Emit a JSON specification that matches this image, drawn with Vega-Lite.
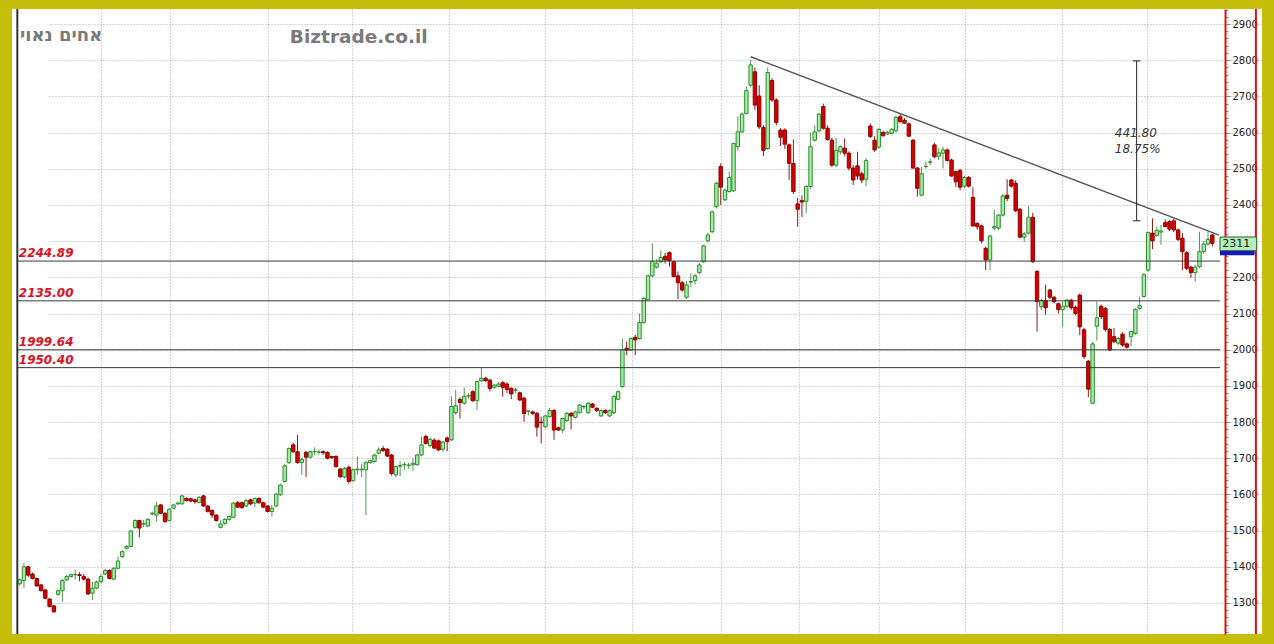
{
"$schema":"https://vega.github.io/schema/vega-lite/v6.json",
"width":1250,"height":625,
"autosize":{"type":"none"},
"padding":{"left":12,"top":9,"right":12,"bottom":10},
"background":"#c5bf0c",
"config":{"view":{"fill":"white","stroke":null},"font":"DejaVu Sans"},
"datasets":{
"candles":[
{"i":1,"o":1353,"h":1368,"l":1348,"c":1364},{"i":2,"o":1362,"h":1411,"l":1341,"c":1400},{"i":3,"o":1400,"h":1402,"l":1372,"c":1377},{"i":4,"o":1380,"h":1384,"l":1365,"c":1368},{"i":5,"o":1368,"h":1370,"l":1345,"c":1347},{"i":6,"o":1350,"h":1352,"l":1332,"c":1334},{"i":7,"o":1336,"h":1338,"l":1310,"c":1313},{"i":8,"o":1311,"h":1313,"l":1288,"c":1290},{"i":9,"o":1292,"h":1294,"l":1272,"c":1276},{"i":10,"o":1324,"h":1336,"l":1320,"c":1334},
{"i":11,"o":1334,"h":1366,"l":1304,"c":1362},{"i":12,"o":1364,"h":1378,"l":1360,"c":1373},{"i":13,"o":1373,"h":1381,"l":1370,"c":1378},{"i":14,"o":1378,"h":1392,"l":1364,"c":1379},{"i":15,"o":1378,"h":1385,"l":1360,"c":1376},{"i":16,"o":1373,"h":1380,"l":1362,"c":1366},{"i":17,"o":1366,"h":1370,"l":1322,"c":1325},{"i":18,"o":1327,"h":1359,"l":1308,"c":1341},{"i":19,"o":1341,"h":1362,"l":1338,"c":1358},{"i":20,"o":1359,"h":1380,"l":1355,"c":1373},
{"i":21,"o":1380,"h":1395,"l":1377,"c":1390},{"i":22,"o":1390,"h":1393,"l":1365,"c":1368},{"i":23,"o":1366,"h":1398,"l":1364,"c":1396},{"i":24,"o":1396,"h":1428,"l":1393,"c":1416},{"i":25,"o":1428,"h":1446,"l":1424,"c":1442},{"i":26,"o":1451,"h":1460,"l":1448,"c":1456},{"i":27,"o":1456,"h":1502,"l":1454,"c":1499},{"i":28,"o":1509,"h":1531,"l":1505,"c":1528},{"i":29,"o":1528,"h":1530,"l":1482,"c":1507},{"i":30,"o":1518,"h":1530,"l":1510,"c":1520},
{"i":31,"o":1513,"h":1535,"l":1510,"c":1531},{"i":32,"o":1546,"h":1552,"l":1542,"c":1548},{"i":33,"o":1543,"h":1580,"l":1525,"c":1568},{"i":34,"o":1571,"h":1574,"l":1546,"c":1548},{"i":35,"o":1548,"h":1550,"l":1522,"c":1525},{"i":36,"o":1528,"h":1562,"l":1526,"c":1559},{"i":37,"o":1562,"h":1574,"l":1560,"c":1571},{"i":38,"o":1574,"h":1580,"l":1570,"c":1576},{"i":39,"o":1574,"h":1599,"l":1572,"c":1596},{"i":40,"o":1589,"h":1592,"l":1580,"c":1583},
{"i":41,"o":1588,"h":1591,"l":1578,"c":1582},{"i":42,"o":1585,"h":1588,"l":1574,"c":1580},{"i":43,"o":1578,"h":1595,"l":1575,"c":1592},{"i":44,"o":1596,"h":1598,"l":1566,"c":1568},{"i":45,"o":1568,"h":1570,"l":1550,"c":1553},{"i":46,"o":1556,"h":1558,"l":1535,"c":1543},{"i":47,"o":1543,"h":1545,"l":1525,"c":1528},{"i":48,"o":1509,"h":1529,"l":1506,"c":1518},{"i":49,"o":1520,"h":1535,"l":1516,"c":1531},{"i":50,"o":1531,"h":1542,"l":1528,"c":1539},
{"i":51,"o":1537,"h":1579,"l":1535,"c":1576},{"i":52,"o":1577,"h":1582,"l":1562,"c":1565},{"i":53,"o":1577,"h":1580,"l":1560,"c":1564},{"i":54,"o":1568,"h":1588,"l":1565,"c":1583},{"i":55,"o":1585,"h":1588,"l":1570,"c":1574},{"i":56,"o":1576,"h":1592,"l":1565,"c":1589},{"i":57,"o":1589,"h":1592,"l":1575,"c":1577},{"i":58,"o":1577,"h":1580,"l":1562,"c":1565},{"i":59,"o":1568,"h":1570,"l":1550,"c":1553},{"i":60,"o":1553,"h":1571,"l":1539,"c":1562},
{"i":61,"o":1568,"h":1604,"l":1565,"c":1601},{"i":62,"o":1599,"h":1630,"l":1596,"c":1626},{"i":63,"o":1636,"h":1684,"l":1633,"c":1679},{"i":64,"o":1688,"h":1730,"l":1684,"c":1727},{"i":65,"o":1737,"h":1742,"l":1715,"c":1718},{"i":66,"o":1718,"h":1764,"l":1685,"c":1688},{"i":67,"o":1688,"h":1700,"l":1654,"c":1697},{"i":68,"o":1716,"h":1720,"l":1648,"c":1703},{"i":69,"o":1703,"h":1722,"l":1700,"c":1718},{"i":70,"o":1718,"h":1730,"l":1708,"c":1719},
{"i":71,"o":1717,"h":1724,"l":1710,"c":1717},{"i":72,"o":1718,"h":1722,"l":1710,"c":1715},{"i":73,"o":1716,"h":1719,"l":1697,"c":1700},{"i":74,"o":1705,"h":1707,"l":1698,"c":1702},{"i":75,"o":1705,"h":1708,"l":1674,"c":1677},{"i":76,"o":1670,"h":1673,"l":1645,"c":1649},{"i":77,"o":1648,"h":1676,"l":1644,"c":1672},{"i":78,"o":1675,"h":1680,"l":1630,"c":1636},{"i":79,"o":1638,"h":1672,"l":1635,"c":1668},{"i":80,"o":1668,"h":1705,"l":1654,"c":1670},
{"i":81,"o":1668,"h":1685,"l":1648,"c":1670},{"i":82,"o":1668,"h":1692,"l":1543,"c":1688},{"i":83,"o":1688,"h":1697,"l":1685,"c":1693},{"i":84,"o":1691,"h":1712,"l":1688,"c":1709},{"i":85,"o":1714,"h":1730,"l":1711,"c":1723},{"i":86,"o":1727,"h":1734,"l":1718,"c":1721},{"i":87,"o":1725,"h":1728,"l":1703,"c":1706},{"i":88,"o":1709,"h":1712,"l":1652,"c":1658},{"i":89,"o":1654,"h":1680,"l":1648,"c":1677},{"i":90,"o":1678,"h":1692,"l":1650,"c":1680},
{"i":91,"o":1682,"h":1690,"l":1668,"c":1683},{"i":92,"o":1680,"h":1688,"l":1670,"c":1681},{"i":93,"o":1682,"h":1700,"l":1665,"c":1686},{"i":94,"o":1682,"h":1712,"l":1680,"c":1709},{"i":95,"o":1709,"h":1760,"l":1705,"c":1737},{"i":96,"o":1760,"h":1765,"l":1738,"c":1741},{"i":97,"o":1735,"h":1756,"l":1730,"c":1752},{"i":98,"o":1750,"h":1755,"l":1725,"c":1728},{"i":99,"o":1748,"h":1752,"l":1720,"c":1723},{"i":100,"o":1725,"h":1748,"l":1718,"c":1745},
{"i":101,"o":1756,"h":1760,"l":1720,"c":1746},{"i":102,"o":1751,"h":1871,"l":1748,"c":1843},{"i":103,"o":1826,"h":1889,"l":1820,"c":1845},{"i":104,"o":1863,"h":1868,"l":1810,"c":1854},{"i":105,"o":1852,"h":1895,"l":1848,"c":1871},{"i":106,"o":1872,"h":1880,"l":1865,"c":1873},{"i":107,"o":1884,"h":1888,"l":1856,"c":1859},{"i":108,"o":1859,"h":1914,"l":1833,"c":1912},{"i":109,"o":1914,"h":1949,"l":1910,"c":1921},{"i":110,"o":1921,"h":1925,"l":1912,"c":1914},
{"i":111,"o":1916,"h":1920,"l":1885,"c":1893},{"i":112,"o":1896,"h":1905,"l":1892,"c":1902},{"i":113,"o":1899,"h":1910,"l":1895,"c":1905},{"i":114,"o":1909,"h":1913,"l":1870,"c":1896},{"i":115,"o":1905,"h":1910,"l":1880,"c":1890},{"i":116,"o":1893,"h":1897,"l":1863,"c":1878},{"i":117,"o":1888,"h":1895,"l":1880,"c":1889},{"i":118,"o":1881,"h":1884,"l":1858,"c":1861},{"i":119,"o":1866,"h":1870,"l":1801,"c":1824},{"i":120,"o":1830,"h":1832,"l":1818,"c":1831},
{"i":121,"o":1828,"h":1832,"l":1820,"c":1824},{"i":122,"o":1824,"h":1828,"l":1760,"c":1786},{"i":123,"o":1800,"h":1815,"l":1741,"c":1798},{"i":124,"o":1787,"h":1820,"l":1783,"c":1817},{"i":125,"o":1815,"h":1840,"l":1812,"c":1832},{"i":126,"o":1832,"h":1836,"l":1751,"c":1778},{"i":127,"o":1784,"h":1788,"l":1775,"c":1778},{"i":128,"o":1778,"h":1812,"l":1770,"c":1810},{"i":129,"o":1804,"h":1828,"l":1800,"c":1824},{"i":130,"o":1824,"h":1828,"l":1780,"c":1817},
{"i":131,"o":1813,"h":1832,"l":1810,"c":1828},{"i":132,"o":1826,"h":1850,"l":1823,"c":1847},{"i":133,"o":1842,"h":1848,"l":1836,"c":1843},{"i":134,"o":1826,"h":1856,"l":1822,"c":1852},{"i":135,"o":1850,"h":1853,"l":1838,"c":1841},{"i":136,"o":1838,"h":1841,"l":1828,"c":1832},{"i":137,"o":1817,"h":1835,"l":1814,"c":1832},{"i":138,"o":1832,"h":1835,"l":1822,"c":1826},{"i":139,"o":1817,"h":1835,"l":1814,"c":1832},{"i":140,"o":1826,"h":1874,"l":1822,"c":1871},
{"i":141,"o":1863,"h":1888,"l":1860,"c":1884},{"i":142,"o":1898,"h":2031,"l":1895,"c":1999},{"i":143,"o":2004,"h":2022,"l":1985,"c":1999},{"i":144,"o":1999,"h":2034,"l":1996,"c":2031},{"i":145,"o":2034,"h":2041,"l":1985,"c":2027},{"i":146,"o":2031,"h":2100,"l":2028,"c":2075},{"i":147,"o":2075,"h":2145,"l":2072,"c":2142},{"i":148,"o":2138,"h":2208,"l":2135,"c":2204},{"i":149,"o":2204,"h":2294,"l":2200,"c":2244},{"i":150,"o":2228,"h":2250,"l":2224,"c":2239},
{"i":151,"o":2243,"h":2275,"l":2240,"c":2255},{"i":152,"o":2258,"h":2268,"l":2238,"c":2248},{"i":153,"o":2268,"h":2272,"l":2230,"c":2246},{"i":154,"o":2243,"h":2246,"l":2200,"c":2202},{"i":155,"o":2204,"h":2216,"l":2140,"c":2185},{"i":156,"o":2185,"h":2190,"l":2160,"c":2165},{"i":157,"o":2145,"h":2190,"l":2140,"c":2179},{"i":158,"o":2187,"h":2211,"l":2174,"c":2188},{"i":159,"o":2191,"h":2210,"l":2180,"c":2204},{"i":160,"o":2213,"h":2240,"l":2208,"c":2234},
{"i":161,"o":2243,"h":2290,"l":2240,"c":2287},{"i":162,"o":2301,"h":2322,"l":2296,"c":2317},{"i":163,"o":2326,"h":2385,"l":2322,"c":2381},{"i":164,"o":2396,"h":2464,"l":2390,"c":2460},{"i":165,"o":2506,"h":2515,"l":2400,"c":2449},{"i":166,"o":2414,"h":2445,"l":2410,"c":2441},{"i":167,"o":2437,"h":2492,"l":2434,"c":2476},{"i":168,"o":2439,"h":2572,"l":2436,"c":2570},{"i":169,"o":2561,"h":2645,"l":2550,"c":2602},{"i":170,"o":2602,"h":2655,"l":2598,"c":2651},
{"i":171,"o":2653,"h":2727,"l":2650,"c":2716},{"i":172,"o":2731,"h":2800,"l":2725,"c":2787},{"i":173,"o":2768,"h":2780,"l":2662,"c":2676},{"i":174,"o":2701,"h":2731,"l":2610,"c":2616},{"i":175,"o":2614,"h":2620,"l":2535,"c":2551},{"i":176,"o":2556,"h":2780,"l":2552,"c":2766},{"i":177,"o":2744,"h":2750,"l":2685,"c":2690},{"i":178,"o":2690,"h":2695,"l":2620,"c":2628},{"i":179,"o":2607,"h":2612,"l":2563,"c":2587},{"i":180,"o":2607,"h":2612,"l":2555,"c":2568},
{"i":181,"o":2566,"h":2570,"l":2469,"c":2515},{"i":182,"o":2515,"h":2581,"l":2430,"c":2437},{"i":183,"o":2403,"h":2420,"l":2340,"c":2388},{"i":184,"o":2412,"h":2427,"l":2367,"c":2408},{"i":185,"o":2410,"h":2455,"l":2377,"c":2451},{"i":186,"o":2451,"h":2600,"l":2445,"c":2561},{"i":187,"o":2579,"h":2620,"l":2575,"c":2602},{"i":188,"o":2605,"h":2655,"l":2600,"c":2651},{"i":189,"o":2672,"h":2680,"l":2608,"c":2612},{"i":190,"o":2612,"h":2620,"l":2578,"c":2581},
{"i":191,"o":2579,"h":2585,"l":2505,"c":2510},{"i":192,"o":2510,"h":2585,"l":2505,"c":2551},{"i":193,"o":2547,"h":2565,"l":2540,"c":2561},{"i":194,"o":2557,"h":2584,"l":2535,"c":2543},{"i":195,"o":2543,"h":2548,"l":2495,"c":2502},{"i":196,"o":2502,"h":2510,"l":2455,"c":2469},{"i":197,"o":2508,"h":2547,"l":2470,"c":2480},{"i":198,"o":2486,"h":2492,"l":2460,"c":2469},{"i":199,"o":2471,"h":2529,"l":2452,"c":2523},{"i":200,"o":2618,"h":2625,"l":2585,"c":2589},
{"i":201,"o":2579,"h":2590,"l":2547,"c":2552},{"i":202,"o":2560,"h":2612,"l":2555,"c":2609},{"i":203,"o":2600,"h":2605,"l":2590,"c":2591},{"i":204,"o":2596,"h":2604,"l":2593,"c":2601},{"i":205,"o":2598,"h":2612,"l":2595,"c":2609},{"i":206,"o":2605,"h":2648,"l":2600,"c":2642},{"i":207,"o":2644,"h":2652,"l":2628,"c":2630},{"i":208,"o":2634,"h":2640,"l":2624,"c":2626},{"i":209,"o":2624,"h":2628,"l":2588,"c":2590},{"i":210,"o":2579,"h":2582,"l":2500,"c":2502},
{"i":211,"o":2502,"h":2505,"l":2423,"c":2446},{"i":212,"o":2427,"h":2505,"l":2424,"c":2486},{"i":213,"o":2506,"h":2520,"l":2500,"c":2507},{"i":214,"o":2518,"h":2528,"l":2510,"c":2519},{"i":215,"o":2566,"h":2572,"l":2530,"c":2533},{"i":216,"o":2535,"h":2557,"l":2524,"c":2544},{"i":217,"o":2543,"h":2561,"l":2501,"c":2552},{"i":218,"o":2552,"h":2556,"l":2520,"c":2523},{"i":219,"o":2524,"h":2528,"l":2478,"c":2480},{"i":220,"o":2492,"h":2496,"l":2450,"c":2464},
{"i":221,"o":2495,"h":2500,"l":2441,"c":2449},{"i":222,"o":2452,"h":2480,"l":2446,"c":2476},{"i":223,"o":2476,"h":2480,"l":2448,"c":2452},{"i":224,"o":2421,"h":2449,"l":2340,"c":2342},{"i":225,"o":2349,"h":2352,"l":2332,"c":2340},{"i":226,"o":2342,"h":2345,"l":2294,"c":2301},{"i":227,"o":2280,"h":2285,"l":2220,"c":2248},{"i":228,"o":2248,"h":2318,"l":2220,"c":2314},{"i":229,"o":2336,"h":2387,"l":2331,"c":2340},{"i":230,"o":2336,"h":2375,"l":2330,"c":2372},
{"i":231,"o":2372,"h":2430,"l":2368,"c":2425},{"i":232,"o":2427,"h":2471,"l":2410,"c":2418},{"i":233,"o":2469,"h":2472,"l":2448,"c":2452},{"i":234,"o":2460,"h":2468,"l":2380,"c":2384},{"i":235,"o":2388,"h":2392,"l":2308,"c":2311},{"i":236,"o":2311,"h":2325,"l":2298,"c":2320},{"i":237,"o":2322,"h":2397,"l":2318,"c":2366},{"i":238,"o":2366,"h":2378,"l":2240,"c":2243},{"i":239,"o":2216,"h":2220,"l":2050,"c":2133},{"i":240,"o":2119,"h":2140,"l":2110,"c":2136},
{"i":241,"o":2136,"h":2180,"l":2096,"c":2116},{"i":242,"o":2165,"h":2168,"l":2140,"c":2145},{"i":243,"o":2145,"h":2148,"l":2128,"c":2133},{"i":244,"o":2127,"h":2130,"l":2100,"c":2111},{"i":245,"o":2111,"h":2133,"l":2063,"c":2120},{"i":246,"o":2120,"h":2140,"l":2115,"c":2137},{"i":247,"o":2137,"h":2140,"l":2110,"c":2116},{"i":248,"o":2117,"h":2122,"l":2095,"c":2100},{"i":249,"o":2151,"h":2155,"l":2040,"c":2063},{"i":250,"o":2055,"h":2060,"l":1975,"c":1981},
{"i":251,"o":1968,"h":1972,"l":1869,"c":1891},{"i":252,"o":1852,"h":2022,"l":1850,"c":2016},{"i":253,"o":2065,"h":2133,"l":2025,"c":2088},{"i":254,"o":2120,"h":2125,"l":2085,"c":2091},{"i":255,"o":2114,"h":2118,"l":2050,"c":2056},{"i":256,"o":2056,"h":2060,"l":1998,"c":1999},{"i":257,"o":2036,"h":2060,"l":2018,"c":2022},{"i":258,"o":2018,"h":2035,"l":2012,"c":2031},{"i":259,"o":2043,"h":2048,"l":2008,"c":2013},{"i":260,"o":2016,"h":2020,"l":2003,"c":2007},
{"i":261,"o":2036,"h":2052,"l":2009,"c":2050},{"i":262,"o":2045,"h":2115,"l":2040,"c":2111},{"i":263,"o":2114,"h":2147,"l":2110,"c":2122},{"i":264,"o":2147,"h":2212,"l":2144,"c":2207},{"i":265,"o":2220,"h":2326,"l":2216,"c":2324},{"i":266,"o":2322,"h":2363,"l":2278,"c":2301},{"i":267,"o":2316,"h":2340,"l":2312,"c":2330},{"i":268,"o":2325,"h":2345,"l":2290,"c":2328},{"i":269,"o":2351,"h":2360,"l":2340,"c":2340},{"i":270,"o":2354,"h":2358,"l":2328,"c":2333},
{"i":271,"o":2356,"h":2362,"l":2325,"c":2331},{"i":272,"o":2331,"h":2335,"l":2300,"c":2305},{"i":273,"o":2308,"h":2322,"l":2220,"c":2271},{"i":274,"o":2268,"h":2272,"l":2220,"c":2225},{"i":275,"o":2228,"h":2232,"l":2198,"c":2213},{"i":276,"o":2213,"h":2235,"l":2188,"c":2228},{"i":277,"o":2230,"h":2326,"l":2225,"c":2271},{"i":278,"o":2271,"h":2300,"l":2265,"c":2292},{"i":279,"o":2292,"h":2326,"l":2288,"c":2305},{"i":280,"o":2317,"h":2320,"l":2285,"c":2294}
],
"levels":[{"v":2244.89,"t":"2244.89"},{"v":2135.00,"t":"2135.00"},{"v":1999.64,"t":"1999.64"},{"v":1950.40,"t":"1950.40"}],
"trend":[{"i":172.0,"p":2809.6},{"i":281.6,"p":2316.5}],
"measure":[{"lo":2356.27,"hi":2798.07}],
"caps":[{"p":2356.27},{"p":2798.07}],
"mtext":[{"t":"441.80","p":2588.6},{"t":"18.75%","p":2544.4}]
},
"layer":[
{"data":{"name":"candles"},
 "mark":{"type":"rule","strokeWidth":1},
 "encoding":{
  "x":{"field":"i","type":"quantitative",
   "scale":{"domain":[0.374,281.8],"range":[0,1213],"nice":false,"zero":false},
   "axis":{"title":null,"tickCount":100,"values":[20.1,36.1,59.1,78.8,101.5,124.0,144.2,165.1,183.2,202.0,222.2,244.9,264.7],"labels":false,"ticks":false,"domain":false,"grid":true,"gridDash":[1,2],"gridColor":"#a8a8a8","gridWidth":1}},
  "y":{"field":"l","type":"quantitative",
   "scale":{"domain":[1214.3,2941.5],"nice":false,"zero":false},
   "axis":{"title":null,"orient":"right","offset":-37,"format":"d","tickCount":200,"labelOverlap":false,"labelBound":false,"labelFlush":false,
    "values":[1220,1240,1260,1280,1300,1320,1340,1360,1380,1400,1420,1440,1460,1480,1500,1520,1540,1560,1580,1600,1620,1640,1660,1680,1700,1720,1740,1760,1780,1800,1820,1840,1860,1880,1900,1920,1940,1960,1980,2000,2020,2040,2060,2080,2100,2120,2140,2160,2180,2200,2220,2240,2260,2280,2300,2320,2340,2360,2380,2400,2420,2440,2460,2480,2500,2520,2540,2560,2580,2600,2620,2640,2660,2680,2700,2720,2740,2760,2780,2800,2820,2840,2860,2880,2900,2920,2940],
    "labelExpr":"(datum.value % 100 === 0 && datum.value !== 2300) ? datum.label : ''",
    "labelFont":"DejaVu Sans","labelFontSize":10,"labelColor":"#222","labelPadding":2,
    "tickSize":{"condition":{"test":"datum.value % 100 === 0","value":5},"value":3},
    "tickColor":"#8a8a8a","tickWidth":1,
    "domainColor":"#e01010","domainWidth":2,
    "grid":true,"gridDash":[1,2],"gridColor":"#a8a8a8",
    "gridOpacity":{"condition":{"test":"datum.value % 100 === 0","value":1},"value":0}}},
  "y2":{"field":"h"},
  "color":{"condition":{"test":"datum.c >= datum.o","value":"#4e9a4e"},"value":"#8c1a1a"}
 }},
{"data":{"name":"candles"},
 "mark":{"type":"bar","width":3.4,"strokeWidth":1},
 "encoding":{
  "x":{"field":"i","type":"quantitative"},
  "y":{"field":"o","type":"quantitative"},
  "y2":{"field":"c"},
  "fill":{"condition":{"test":"datum.c >= datum.o","value":"#a4eea4"},"value":"#d40000"},
  "stroke":{"condition":{"test":"datum.c >= datum.o","value":"#2f8a2f"},"value":"#900000"}
 }},
{"data":{"name":"levels"},
 "mark":{"type":"rule","color":"#3a3a3a","strokeWidth":1},
 "encoding":{"y":{"field":"v","type":"quantitative"},"x":{"datum":0.374},"x2":{"datum":281.8}}},
{"data":{"name":"levels"},
 "mark":{"type":"text","align":"left","baseline":"alphabetic","dy":-4,"color":"#e01020","fontSize":12,"fontStyle":"italic","fontWeight":"bold","font":"DejaVu Sans"},
 "encoding":{"y":{"field":"v","type":"quantitative"},"x":{"datum":0.8},"text":{"field":"t"}}},
{"data":{"name":"trend"},
 "mark":{"type":"line","color":"#555","strokeWidth":1.5},
 "encoding":{"x":{"field":"i","type":"quantitative"},"y":{"field":"p","type":"quantitative"}}},
{"data":{"name":"measure"},
 "mark":{"type":"rule","color":"#222","strokeWidth":1},
 "encoding":{"x":{"datum":262.3},"y":{"field":"lo","type":"quantitative"},"y2":{"field":"hi"}}},
{"data":{"name":"caps"},
 "mark":{"type":"rule","color":"#222","strokeWidth":1},
 "encoding":{"y":{"field":"p","type":"quantitative"},"x":{"datum":261.4},"x2":{"datum":263.2}}},
{"data":{"name":"mtext"},
 "mark":{"type":"text","align":"left","baseline":"alphabetic","color":"#333","fontSize":12,"fontStyle":"italic","font":"DejaVu Sans"},
 "encoding":{"y":{"field":"p","type":"quantitative"},"x":{"datum":257.2},"text":{"field":"t"}}},
{"data":{"values":[{}]},
 "mark":{"type":"rule","color":"#333","strokeWidth":2},
 "encoding":{"x":{"datum":0.45}}},
{"data":{"values":[{}]},
 "mark":{"type":"rule","color":"#e01010","strokeWidth":2},
 "encoding":{"x":{"datum":290.2}}},
{"data":{"values":[{}]},
 "mark":{"type":"rect","color":"#1515d0"},
 "encoding":{"x":{"datum":281.8},"x2":{"datum":289.9},"y":{"datum":2273.6},"y2":{"datum":2261.0}}},
{"data":{"values":[{}]},
 "mark":{"type":"rect","fill":"#b4f0b4","stroke":"#2a5a2a","strokeWidth":1},
 "encoding":{"x":{"datum":281.8},"x2":{"datum":290.4},"y":{"datum":2311.5},"y2":{"datum":2273.6}}},
{"data":{"values":[{}]},
 "mark":{"type":"text","align":"left","baseline":"middle","color":"#111","fontSize":11,"font":"DejaVu Sans"},
 "encoding":{"x":{"datum":282.3},"y":{"datum":2292.7},"text":{"value":"2311"}}},
{"data":{"values":[{}]},
 "mark":{"type":"text","align":"left","baseline":"alphabetic","color":"#7a7a7a","fontSize":18,"fontWeight":"bold","font":"DejaVu Sans"},
 "encoding":{"x":{"datum":1.07},"y":{"datum":2853},"text":{"value":"אחים נאוי"}}},
{"data":{"values":[{}]},
 "mark":{"type":"text","align":"left","baseline":"alphabetic","color":"#7a7a7a","fontSize":18.5,"fontWeight":"bold","font":"DejaVu Sans"},
 "encoding":{"x":{"datum":64.2},"y":{"datum":2846.7},"text":{"value":"Biztrade.co.il"}}}
]
}
